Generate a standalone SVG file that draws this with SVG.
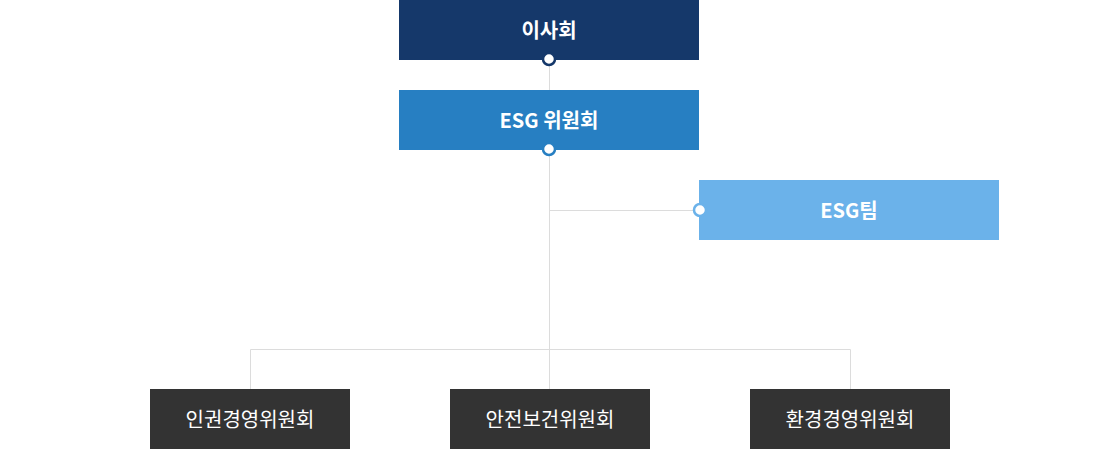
<svg xmlns="http://www.w3.org/2000/svg" width="1100" height="455" viewBox="0 0 1100 455">
<style>
text{font-family:"Noto Sans CJK KR","Noto Sans",sans-serif;font-size:20px;fill:#fff;text-anchor:middle;dominant-baseline:central}
.b{font-weight:bold}
.line{stroke:#dcdcdc;stroke-width:1;fill:none}
.dot{fill:#fff;stroke-width:2.5}
</style>
<rect width="1100" height="455" fill="#fff"/>
<g id="connectors">
<path class="line" d="M549.5 60V389M549.5 210.5H699M250.5 389V349.5H850.5V389"/>
</g>
<g id="board">
<rect x="399" y="0" width="300" height="60" fill="#15386a"/>
<text class="b" x="549" y="29">이사회</text>
<circle class="dot" cx="549" cy="59" r="6" stroke="#15386a"/>
</g>
<g id="esg-committee">
<rect x="399" y="90" width="300" height="60" fill="#277fc2"/>
<text class="b" x="549" y="119">ESG 위원회</text>
<circle class="dot" cx="549" cy="149" r="6" stroke="#277fc2"/>
</g>
<g id="esg-team">
<rect x="699" y="180" width="300" height="60" fill="#6bb2ea"/>
<text class="b" x="849" y="209">ESG팀</text>
<circle class="dot" cx="700" cy="210" r="6" stroke="#6bb2ea"/>
</g>
<g id="human-rights">
<rect x="150" y="389" width="200" height="60" fill="#333"/>
<text x="250" y="418">인권경영위원회</text>
</g>
<g id="safety">
<rect x="450" y="389" width="200" height="60" fill="#333"/>
<text x="550" y="418">안전보건위원회</text>
</g>
<g id="environment">
<rect x="750" y="389" width="200" height="60" fill="#333"/>
<text x="850" y="418">환경경영위원회</text>
</g>
</svg>
